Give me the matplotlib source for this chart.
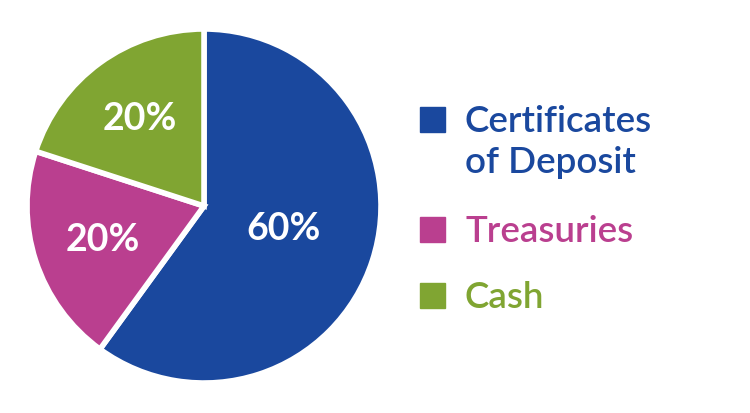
import matplotlib.pyplot as plt
from matplotlib.patches import Rectangle

labels = ['Certificates\nof Deposit', 'Treasuries', 'Cash']
shares = [60, 20, 20]
colors = ['#1A489E', '#BA3F8F', '#80A532']
# where each percentage label sits, in pie radius units (x, y)
label_pos = [(0.45, -0.13), (-0.57, -0.19), (-0.36, 0.49)]

W, H = 750, 413
fig = plt.figure(figsize=(W / 100, H / 100), dpi=100)

# pie axes: circle from x 27..381, y 29..383 (pixels from top)
ax = fig.add_axes([27 / W, (H - 383) / H, 354 / W, 354 / H])
wedges, _ = ax.pie(shares, colors=colors, startangle=90, counterclock=False,
                   wedgeprops=dict(edgecolor='white', linewidth=4))
ax.set_xlim(-1.0, 1.0)
ax.set_ylim(-1.0, 1.0)
ax.set_aspect('equal')
ax.axis('off')

for s, (x, y) in zip(shares, label_pos):
    ax.text(x, y, f'{s}%', color='white', fontsize=27, fontweight='bold',
            family='Lato', ha='center', va='center')

# legend drawn by hand, baselines in pixels from top
sq = 25
legend_base = [132, 242, 308]
line_gap = 41
for lab, c, base in zip(labels, colors, legend_base):
    fig.patches.append(Rectangle((420 / W, (H - base) / H), sq / W, sq / H,
                                 transform=fig.transFigure, color=c))
    for k, line in enumerate(lab.split('\n')):
        fig.text(465 / W, (H - base - k * line_gap) / H, line, color=c,
                 fontsize=26.5, family='Lato', fontweight='semibold',
                 ha='left', va='baseline')

fig.savefig('out.png', dpi=100, facecolor='white')
